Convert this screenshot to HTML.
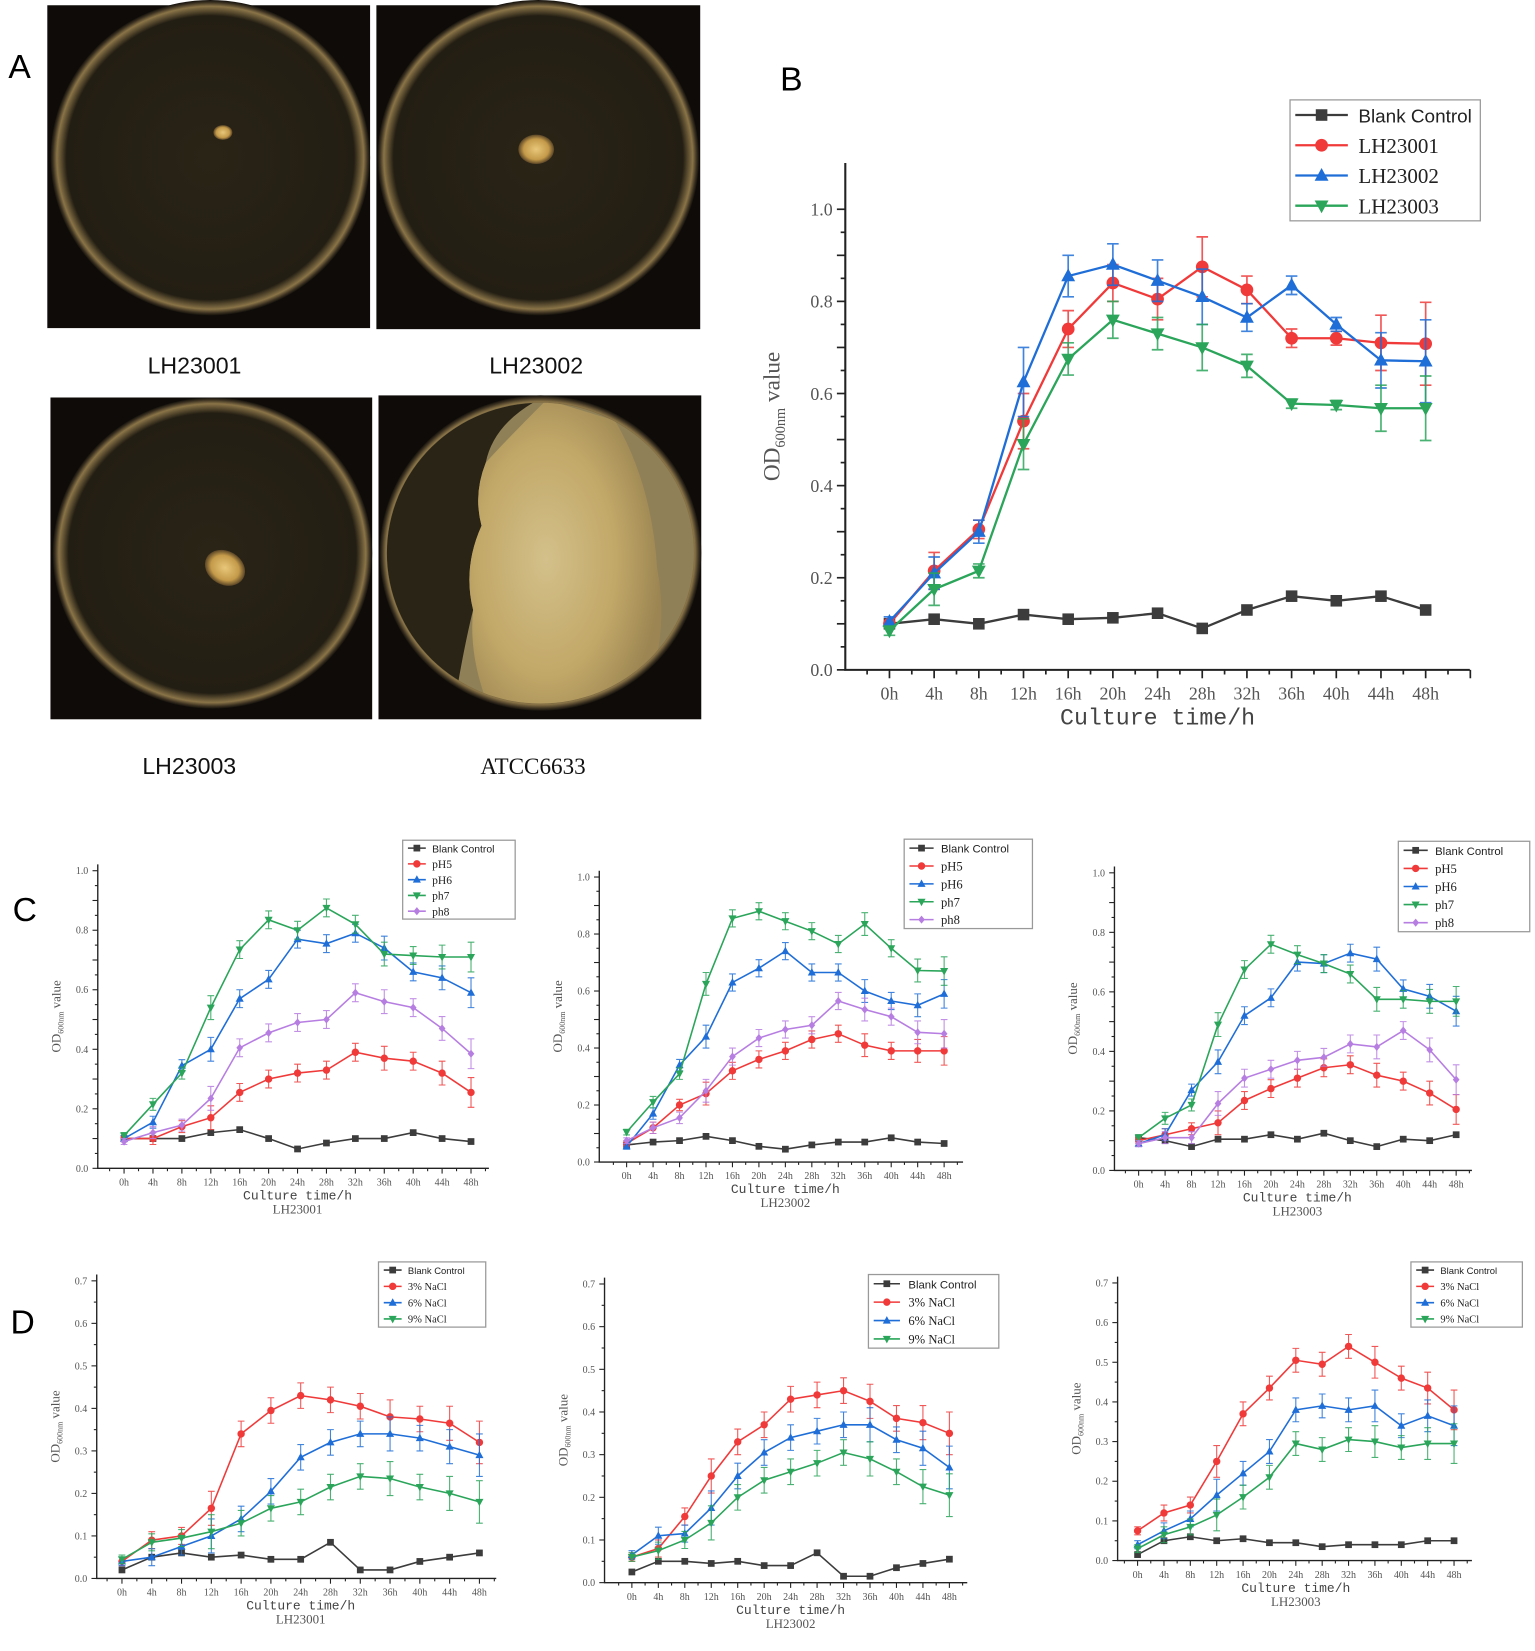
<!DOCTYPE html>
<html><head><meta charset="utf-8"><style>
html,body{margin:0;padding:0;background:#fff;width:1535px;height:1651px;overflow:hidden}
svg{display:block}
.tk{font-family:"Liberation Serif",serif;fill:#555}
.mono{font-family:"Liberation Mono",monospace;fill:#444}
.sans{font-family:"Liberation Sans",sans-serif}
</style></head><body>
<svg id="fig" width="1535" height="1651" viewBox="0 0 1460 1570" preserveAspectRatio="none" xmlns="http://www.w3.org/2000/svg">
<defs>
<radialGradient id="dish" cx="50%" cy="50%" r="50%">
<stop offset="0" stop-color="#2a2417"/><stop offset="0.9" stop-color="#231e13"/><stop offset="0.96" stop-color="#8a7448"/><stop offset="0.985" stop-color="#3a3020"/><stop offset="1" stop-color="#120f0a"/>
</radialGradient>
<radialGradient id="col" cx="50%" cy="50%" r="50%"><stop offset="0" stop-color="#e8c77a"/><stop offset="0.7" stop-color="#c49a4a"/><stop offset="1" stop-color="#5a4526"/></radialGradient>
<radialGradient id="big" cx="40%" cy="50%" r="60%"><stop offset="0" stop-color="#d3c08a"/><stop offset="0.6" stop-color="#c2a868"/><stop offset="1" stop-color="#9c8552"/></radialGradient>
<clipPath id="dclip"><ellipse cx="514" cy="526" rx="146" ry="143"/></clipPath>
</defs>
<text x="8" y="74" class="sans" font-size="32" fill="#000">A</text>
<g>
<rect x="45" y="5" width="307" height="307" fill="#0e0b08"/>
<ellipse cx="200" cy="150" rx="152" ry="150" fill="url(#dish)"/>
<ellipse cx="212" cy="126" rx="9" ry="7" fill="url(#col)"/></g>
<g>
<rect x="358" y="5" width="308" height="308" fill="#0e0b08"/>
<ellipse cx="512" cy="150" rx="153" ry="150" fill="url(#dish)"/>
<ellipse cx="510" cy="142" rx="17" ry="14" fill="url(#col)"/></g>
<g>
<rect x="48" y="378" width="306" height="306" fill="#0e0b08"/>
<ellipse cx="202" cy="526" rx="152" ry="148" fill="url(#dish)"/>
<ellipse cx="214" cy="540" rx="20" ry="16" fill="url(#col)" transform="rotate(30 214 540)"/></g>
<g>
<rect x="360" y="376" width="307" height="308" fill="#0e0b08"/>
<ellipse cx="514" cy="526" rx="153" ry="150" fill="url(#dish)"/>
<g clip-path="url(#dclip)">
<rect x="360" y="376" width="307" height="308" fill="#8f8058"/>
<path d="M360 376 H520 Q470 400 462 440 Q450 470 458 500 Q440 540 450 580 Q440 620 430 684 H360Z" fill="#2a2417"/>
<path d="M520 380 Q480 420 462 440 Q450 470 458 500 Q440 540 450 580 Q445 630 470 684 H600 Q640 620 625 540 Q620 460 585 400Z" fill="url(#big)"/>
</g></g>
<text x="185" y="355" text-anchor="middle" class="sans" font-size="22" fill="#111">LH23001</text>
<text x="510" y="355" text-anchor="middle" class="sans" font-size="22" fill="#111">LH23002</text>
<text x="180" y="736" text-anchor="middle" class="sans" font-size="22" fill="#111">LH23003</text>
<text x="507" y="736" text-anchor="middle" font-family="Liberation Serif,serif" font-size="22" fill="#111">ATCC6633</text>
<text x="742" y="86" class="sans" font-size="32" fill="#000">B</text>
<text x="12" y="876" class="sans" font-size="32" fill="#000">C</text>
<text x="10" y="1268" class="sans" font-size="32" fill="#000">D</text>
</svg>
<script>
const times = ["0h","4h","8h","12h","16h","20h","24h","28h","32h","36h","40h","44h","48h"];
const bBlank = [.10,.11,.10,.12,.11,.113,.123,.09,.13,.16,.15,.16,.13];
const bLH1 = [.10,.215,.305,.54,.74,.84,.805,.875,.825,.72,.72,.71,.708];
const bLH2 = [.105,.21,.30,.625,.855,.88,.845,.81,.765,.835,.75,.672,.67];
const bLH3 = [.085,.175,.215,.49,.675,.76,.73,.70,.66,.578,.575,.568,.568];
const bErr1 = [0,.04,.02,.06,.04,.04,.045,.065,.03,.02,.015,.06,.09];
const bErr2 = [.01,.035,.025,.075,.045,.045,.045,.06,.03,.02,.015,.06,.09];
const bErr3 = [.01,.035,.015,.055,.035,.04,.035,.05,.025,.01,.01,.05,.07];
const c1Blank = [.10,.10,.10,.12,.13,.10,.065,.085,.10,.10,.12,.10,.09];
const c1pH5 = [.10,.10,.14,.17,.255,.30,.32,.33,.39,.37,.36,.32,.255];
const c1pH6 = [.10,.155,.345,.40,.57,.635,.77,.755,.79,.74,.66,.64,.59];
const c1pH7 = [.11,.215,.32,.54,.735,.835,.80,.875,.82,.72,.715,.71,.71];
const c1pH8 = [.09,.12,.145,.235,.405,.455,.49,.50,.59,.56,.54,.47,.385];
const c2Blank = [.06,.07,.075,.09,.075,.055,.045,.06,.07,.07,.085,.07,.065];
const c2pH5 = [.065,.12,.20,.24,.32,.36,.39,.43,.45,.41,.39,.39,.39];
const c2pH6 = [.055,.17,.34,.44,.63,.68,.74,.665,.665,.60,.565,.55,.59];
const c2pH7 = [.105,.21,.31,.625,.855,.88,.845,.81,.765,.835,.75,.672,.67];
const c2pH8 = [.075,.12,.155,.25,.37,.435,.465,.48,.565,.535,.51,.455,.45];
const c3Blank = [.11,.10,.08,.105,.105,.12,.105,.125,.10,.08,.105,.10,.12];
const c3pH5 = [.10,.12,.14,.16,.235,.275,.31,.345,.355,.32,.30,.26,.205];
const c3pH6 = [.09,.12,.27,.365,.52,.58,.70,.695,.73,.71,.61,.585,.535];
const c3pH7 = [.11,.175,.22,.49,.675,.76,.725,.695,.66,.575,.575,.568,.568];
const c3pH8 = [.09,.11,.11,.225,.31,.34,.37,.38,.425,.415,.47,.405,.305];
const d1Blank = [.02,.05,.06,.05,.055,.045,.045,.085,.02,.02,.04,.05,.06];
const d1Na3 = [.04,.09,.10,.165,.34,.395,.43,.42,.405,.38,.375,.365,.32];
const d1Na6 = [.04,.05,.075,.10,.14,.205,.285,.32,.34,.34,.33,.31,.29];
const d1Na9 = [.045,.085,.095,.11,.13,.165,.18,.215,.24,.235,.215,.20,.18];
const d2Blank = [.025,.05,.05,.045,.05,.04,.04,.07,.015,.015,.035,.045,.055];
const d2Na3 = [.06,.08,.155,.25,.33,.37,.43,.44,.45,.425,.385,.375,.35];
const d2Na6 = [.065,.11,.115,.175,.25,.305,.34,.355,.37,.37,.335,.315,.27];
const d2Na9 = [.06,.075,.10,.14,.20,.24,.26,.28,.305,.29,.26,.225,.205];
const d3Blank = [.015,.05,.06,.05,.055,.045,.045,.035,.04,.04,.04,.05,.05];
const d3Na3 = [.075,.12,.14,.25,.37,.435,.505,.495,.54,.50,.46,.435,.38];
const d3Na6 = [.04,.075,.105,.165,.22,.275,.38,.39,.38,.39,.34,.365,.34];
const d3Na9 = [.03,.065,.085,.115,.16,.21,.295,.28,.305,.30,.285,.295,.295];
const smallErr = [.01,.02,.02,.04,.03,.03,.03,.03,.03,.04,.03,.04,.05];

const NS="http://www.w3.org/2000/svg";
const fig=document.getElementById('fig');
const COL={k:'#3c3c3c',r:'#f03a3a',b:'#1f6ed8',g:'#2aa55a',p:'#b77ee2'};
function el(t,a,p){const e=document.createElementNS(NS,t);for(const k in a)e.setAttribute(k,a[k]);(p||fig).appendChild(e);return e;}
function marker(g,kind,x,y,s,c){
  if(kind==='sq')return el('rect',{x:x-s,y:y-s,width:2*s,height:2*s,fill:c},g);
  if(kind==='ci')return el('circle',{cx:x,cy:y,r:s*1.1,fill:c},g);
  if(kind==='tu')return el('polygon',{points:`${x},${y-s*1.3} ${x-s*1.2},${y+s*0.9} ${x+s*1.2},${y+s*0.9}`,fill:c},g);
  if(kind==='td')return el('polygon',{points:`${x},${y+s*1.3} ${x-s*1.2},${y-s*0.9} ${x+s*1.2},${y-s*0.9}`,fill:c},g);
  return el('polygon',{points:`${x},${y-s*1.2} ${x-s},${y} ${x},${y+s*1.2} ${x+s},${y}`,fill:c},g);
}
function chart(o){
  const g=el('g',{});
  
  
  const X=i=>o.x0+(o.x48-o.x0)*i/12;
  const Y=v=>o.y0-(o.y0-o.y1)*v/o.ymax;
  const fs=o.fs;
  const ax=el('path',{d:`M${o.ax},${o.top} V${o.y0} H${o.xend}`,stroke:'#222','stroke-width':o.sw,fill:'none'},g);
  
  
  const step=(o.x48-o.x0)/12;
  for(let k=-1;k<=26;k++){const x=o.x0+step*k/2;if(x<o.ax||x>o.xend+1)continue;
    el('line',{x1:x,x2:x,y1:o.y0,y2:o.y0+(k%2===0?o.tl:o.tl*0.55),stroke:'#222','stroke-width':o.sw*0.8},g);}
  const nT=Math.round(o.ymax/o.ystep);
  for(let k=0;k<=nT*2;k++){const y=Y(o.ystep*k/2);if(y<o.top)continue;
    el('line',{x1:o.ax,x2:o.ax-(k%2===0?o.tl:o.tl*0.55),y1:y,y2:y,stroke:'#222','stroke-width':o.sw*0.8},g);}
  for(let k=0;k<=nT;k+=o.lblEvery){const v=o.ystep*k;const t=el('text',{x:o.ax-o.tl-4,y:Y(v)+fs*0.35,'text-anchor':'end','font-size':fs,class:'tk'},g);t.textContent=v.toFixed(1);
    
    }
  times.forEach((s,i)=>{const t=el('text',{x:X(i),y:o.y0+o.tl+fs*1.2,'text-anchor':'middle','font-size':fs,class:'tk'},g);t.textContent=s;
    
    });
  const xt=el('text',{x:(o.x0+o.x48)/2,y:o.y0+o.tl+fs*2.6,'text-anchor':'middle','font-size':fs*1.3,class:'mono'},g);xt.textContent='Culture time/h';
  
  
  if(o.sub){const st=el('text',{x:(o.x0+o.x48)/2,y:o.y0+o.tl+fs*4.0,'text-anchor':'middle','font-size':fs*1.3,class:'tk'},g);st.textContent=o.sub;
    
    }
  const ym=(o.top+o.y0)/2, yx=o.ax-o.tl-fs*3.2;
  const yt=el('text',{x:yx,y:ym,'text-anchor':'middle','font-size':fs*1.3,class:'tk',fill:'#333',transform:`rotate(-90 ${yx} ${ym})`},g);
  yt.innerHTML=`OD<tspan font-size="${fs*0.8}" dy="${fs*0.3}">600nm</tspan><tspan dy="${-fs*0.3}"> value</tspan>`;
  
  
  o.series.forEach(s=>{
    const sg=el('g',{},g);
    
    
    if(s.err)s.vals.forEach((v,i)=>{if(!s.err[i])return;const x=X(i),a=Y(v+s.err[i]),b=Y(Math.max(0,v-s.err[i]));
      el('path',{d:`M${x},${a}V${b}M${x-o.ms},${a}H${x+o.ms}M${x-o.ms},${b}H${x+o.ms}`,stroke:s.c,'stroke-width':o.sw*0.8,fill:'none',opacity:0.85},sg);});
    el('polyline',{points:s.vals.map((v,i)=>X(i)+','+Y(v)).join(' '),fill:'none',stroke:s.c,'stroke-width':o.lw},sg);
    s.vals.forEach((v,i)=>{const m=marker(sg,s.m,X(i),Y(v),o.ms,s.c);
      
      });
  });
  const L=o.leg, lg=el('g',{},g);
  
  
  el('rect',{x:L.x,y:L.y,width:L.w,height:L.h,fill:'#fff',stroke:'#999','stroke-width':1.2},lg);
  const rh=L.h/o.series.length;
  o.series.forEach((s,i)=>{const cy=L.y+rh*(i+0.5);
    const e=el('g',{},lg);
    
    
    el('line',{x1:L.x+5,x2:L.x+L.lw,y1:cy,y2:cy,stroke:s.c,'stroke-width':o.lw},e);
    marker(e,s.m,L.x+5+(L.lw-5)/2,cy,o.ms*L.ms,s.c);
    const t=el('text',{x:L.x+L.lw+L.gap,y:cy+L.fs*0.36,'font-size':i===0?L.fs*0.9:L.fs,fill:'#222','font-family':i===0?'Liberation Sans,sans-serif':'Liberation Serif,serif'},e);t.textContent=s.label;});
}
function cSeries(bl,a,b,c,d,err){return [
  {label:'Blank Control',vals:bl,c:COL.k,m:'sq'},
  {label:'pH5',vals:a,c:COL.r,m:'ci',err:err},
  {label:'pH6',vals:b,c:COL.b,m:'tu',err:err},
  {label:'ph7',vals:c,c:COL.g,m:'td',err:err},
  {label:'ph8',vals:d,c:COL.p,m:'di',err:err}];}
function dSeries(bl,a,b,c,err){return [
  {label:'Blank Control',vals:bl,c:COL.k,m:'sq'},
  {label:'3% NaCl',vals:a,c:COL.r,m:'ci',err:err},
  {label:'6% NaCl',vals:b,c:COL.b,m:'tu',err:err},
  {label:'9% NaCl',vals:c,c:COL.g,m:'td',err:err}];}

chart({name:'chart-b-growth',x0:846,x48:1356,ax:804,xend:1398,top:155,y0:637,y1:199,ymax:1.0,ystep:0.1,lblEvery:2,fs:17,tl:8,sw:2,lw:2.2,ms:5.5,
  series:[{label:'Blank Control',vals:bBlank,c:COL.k,m:'sq'},{label:'LH23001',vals:bLH1,c:COL.r,m:'ci',err:bErr1},{label:'LH23002',vals:bLH2,c:COL.b,m:'tu',err:bErr2},{label:'LH23003',vals:bLH3,c:COL.g,m:'td',err:bErr3}],
  leg:{x:1227,y:95,w:181,h:115,lw:55,gap:10,fs:20,ms:1}});

const cC={ystep:0.1,lblEvery:2,fs:9.5,tl:5,sw:1.3,lw:1.5,ms:3.2,ymax:1.0};
chart(Object.assign({},cC,{name:'chart-c-lh23001',x0:118,x48:448,ax:93,xend:465,top:822,y0:1111,y1:828,sub:'LH23001',series:cSeries(c1Blank,c1pH5,c1pH6,c1pH7,c1pH8,smallErr),leg:{x:383,y:799,w:107,h:75,lw:22,gap:6,fs:11,ms:1}}));
chart(Object.assign({},cC,{name:'chart-c-lh23002',x0:596,x48:898,ax:570,xend:916,top:828,y0:1105,y1:834,sub:'LH23002',series:cSeries(c2Blank,c2pH5,c2pH6,c2pH7,c2pH8,smallErr),leg:{x:860,y:798,w:122,h:85,lw:28,gap:7,fs:12,ms:1}}));
chart(Object.assign({},cC,{name:'chart-c-lh23003',x0:1083,x48:1385,ax:1060,xend:1400,top:824,y0:1113,y1:830,sub:'LH23003',series:cSeries(c3Blank,c3pH5,c3pH6,c3pH7,c3pH8,smallErr),leg:{x:1330,y:800,w:125,h:86,lw:28,gap:7,fs:12,ms:1}}));
const dC={ystep:0.1,lblEvery:1,fs:9.5,tl:5,sw:1.3,lw:1.5,ms:3.2,ymax:0.7};
chart(Object.assign({},dC,{name:'chart-d-lh23001',x0:116,x48:456,ax:92,xend:472,top:1212,y0:1501,y1:1218,sub:'LH23001',series:dSeries(d1Blank,d1Na3,d1Na6,d1Na9,smallErr),leg:{x:360,y:1200,w:102,h:62,lw:22,gap:6,fs:10,ms:1}}));
chart(Object.assign({},dC,{name:'chart-d-lh23002',x0:601,x48:903,ax:575,xend:920,top:1215,y0:1505,y1:1221,sub:'LH23002',series:dSeries(d2Blank,d2Na3,d2Na6,d2Na9,smallErr),leg:{x:826,y:1212,w:124,h:70,lw:30,gap:8,fs:12,ms:1}}));
chart(Object.assign({},dC,{name:'chart-d-lh23003',x0:1082,x48:1383,ax:1063,xend:1400,top:1214,y0:1484,y1:1220,sub:'LH23003',series:dSeries(d3Blank,d3Na3,d3Na6,d3Na9,smallErr),leg:{x:1342,y:1200,w:106,h:62,lw:22,gap:6,fs:10,ms:1}}));
</script>
</body></html>
